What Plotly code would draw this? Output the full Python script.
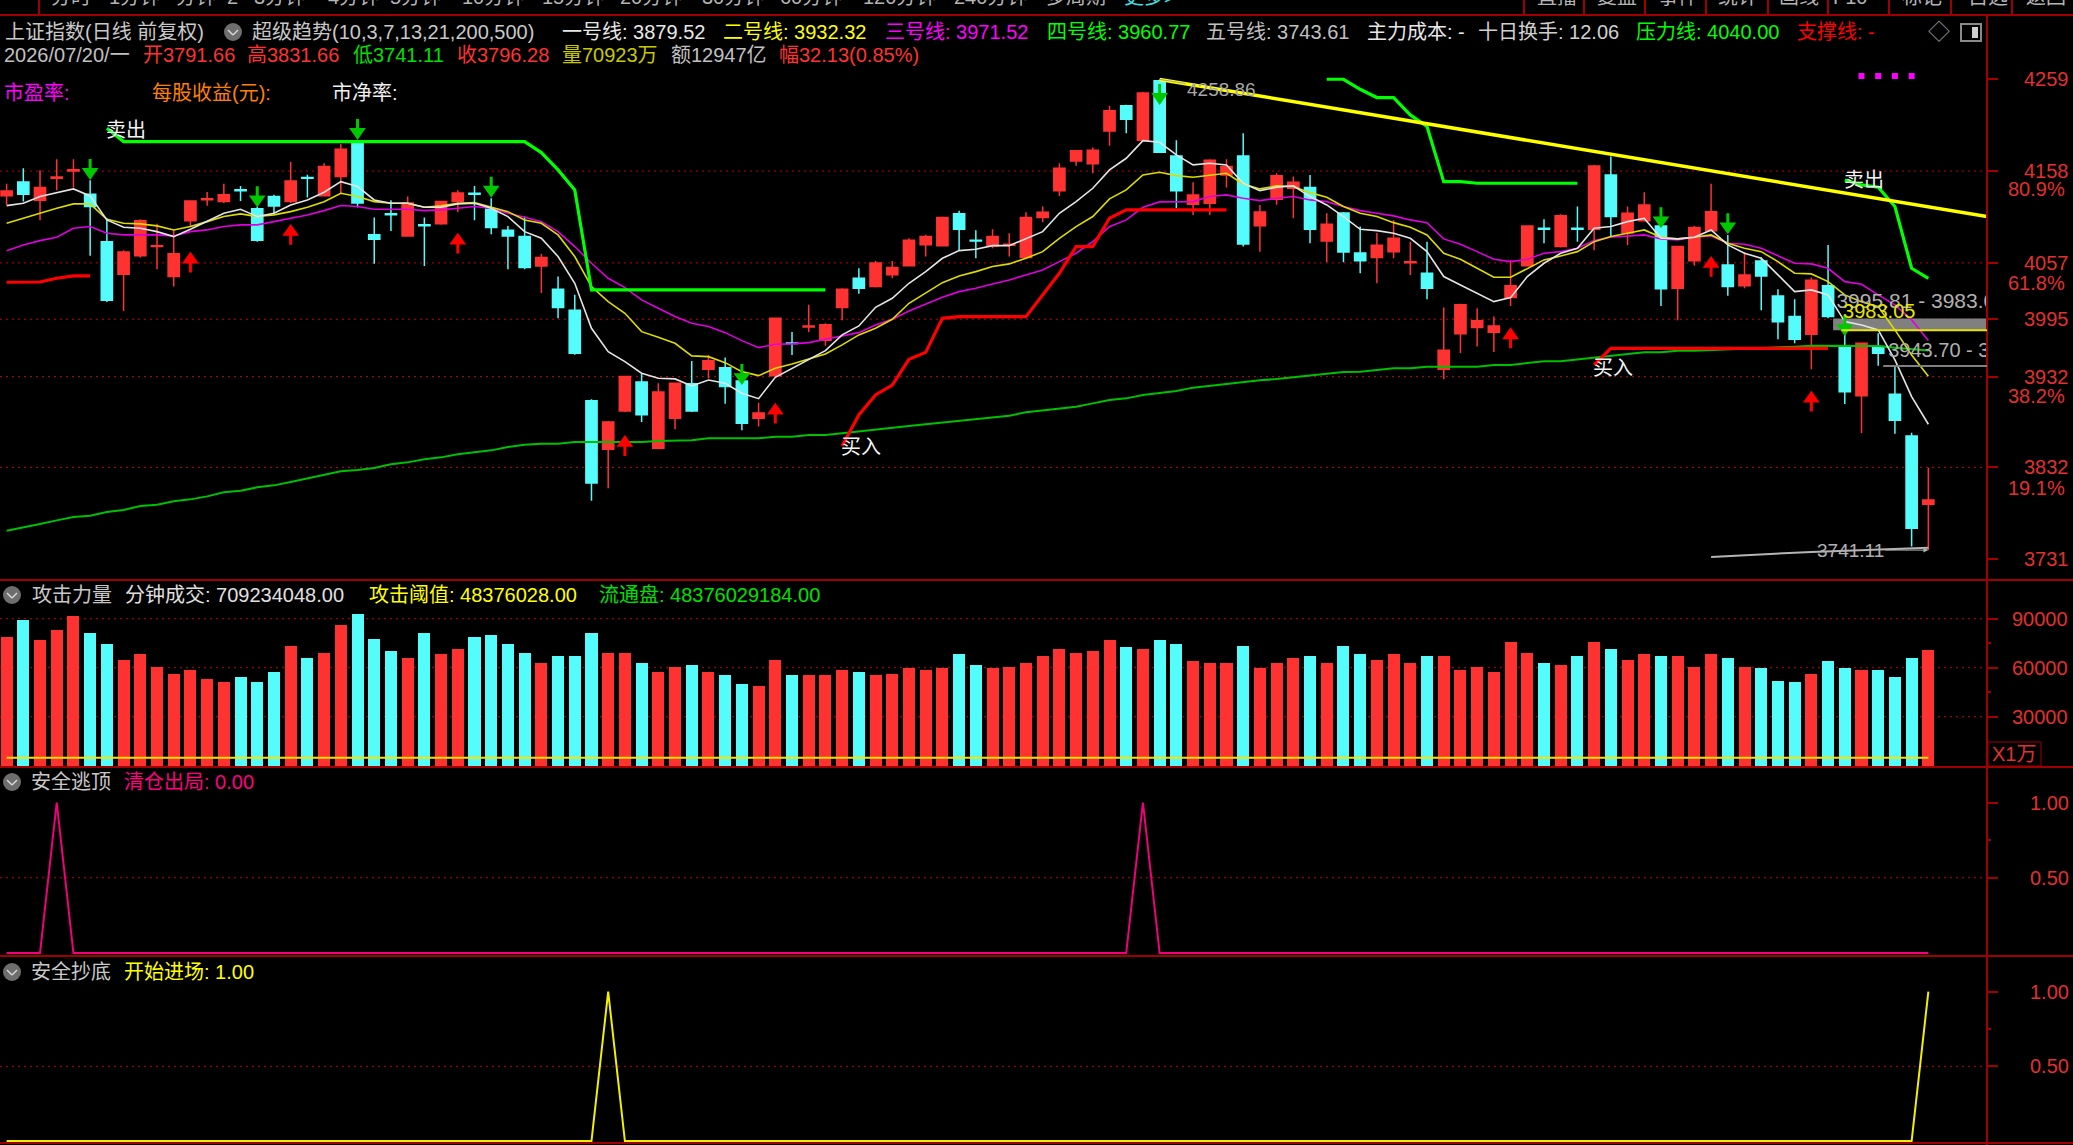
import plotly.graph_objects as go

W, H = 2073, 1145
AXIS_X = 1987

# ---------- daily bars ----------
opens = [4131,4146,4126,4150,4158,4132.5,4080.4,4044.5,4065,4075,
         4042,4103.5,4126.5,4124.5,4137.5,4116.7,4130,4124.5,4151,4131,
         4152,4188.6,4088,4111,4086.6,4099,4100,4124.5,4133.5,4116,
         4093,4086,4053.6,4028,4005,3905.5,3852,3894,3926,3853,
         3886,3924,3940,3941.8,3927,3886,3932.8,3968.9,3986.5,3972,
         4008,4040,4031,4044,4054,4077,4076,4111,4082,4075.6,
         4076.5,4063,4107,4136.5,4169,4166,4202,4230,4192,4257.5,
         4174.7,4121.5,4122.6,4153.8,4174.7,4098,4127,4139,4140,4081,
         4112,4068,4063,4069.4,4057.2,4045.6,3940,3979,3986,3980.7,
         4019,4054,4095,4075,4095,4094,4153.8,4090,4103.5,4097.6,
         4029,4059.5,4092.5,4054.7,4032,4059,4020.6,3998,3978.5,4032,
         3965.6,3911,3965,3912.5,3866.6,3791.66]
closes = [4136.2,4132.5,4140,4151.5,4159.5,4119,4016,4069,4103.5,4076,
          4067,4125,4127.5,4132,4136.5,4082,4119.6,4147,4150,4163,
          4182,4123,4083,4110,4123,4098,4124.5,4134,4132.5,4096,
          4086.6,4052,4063,4008,3957.6,3815,3882,3932,3890,3915,
          3924.6,3894,3949.5,3921,3880.6,3892,3996,3968.3,3987.5,3989,
          4028,4029,4057,4052,4082,4086,4107,4094,4081,4086,
          4077.5,4107,4112.7,4161,4180.5,4181,4224.5,4215,4244,4178.7,
          4136.5,4131.8,4170,4163,4077.9,4113,4153,4145.7,4094,4099.5,
          4069,4059.5,4076.4,4084,4058.2,4029,3961,4011,3993.5,3987.6,
          4032,4097.6,4094,4109,4094,4163.7,4108,4111.6,4120.8,4028.7,
          4075,4096,4113.4,4031,4043.8,4042.6,3992.4,3973,4038,3998,
          3915.4,3968.6,3957.6,3884,3765,3796.28]
highs = [4144,4161,4159,4171,4171,4148,4106,4071,4105,4100,
         4093,4126,4135,4144,4141.6,4119,4132,4168,4154,4166.6,
         4188,4189,4107,4126,4130,4107,4125,4137,4141.6,4128,
         4097.6,4108,4067,4042,4022,3907,3883,3933,3935.6,3924.6,
         3925,3949,3955.7,3953,3928,3903,3997,3981,4011,3990.6,
         4029,4051,4059,4059,4084,4088,4108,4114.5,4093,4094,
         4089.6,4112.7,4119,4166.6,4181,4184,4230,4231,4245,4258.86,
         4192,4145.7,4171,4171,4199.6,4120.8,4155.6,4152,4153.8,4111.6,
         4113,4097,4090,4104,4080.4,4080.4,4008,4012,4007,3998,
         4060,4098,4105,4110.5,4119,4164.8,4174,4119,4134.7,4100,
         4075.6,4097.6,4144,4087.8,4068.7,4063,4028,4017,4041,4076.7,
         3983,3969,3979.6,3943,3870.3,3831.66]
lows = [4121,4124.5,4104,4137,4140,4065,4014,4004,4063,4050,
        4031,4097,4120,4123,4125,4080.4,4111.6,4123,4129,4130,
        4134,4118,4056,4092,4086,4053.6,4099,4113,4104,4088.5,
        4050,4050,4024,3996,3956,3795.5,3809,3893,3882,3852,
        3874,3893,3930,3902,3873,3877,3932,3955.7,3981,3966,
        3994,4023,4030,4040,4053,4064,4075,4070,4062,4073,
        4064,4062,4101.7,4130.7,4164,4155.6,4186,4199.6,4191,4178,
        4117,4109.8,4109.8,4140,4075,4069.4,4121,4106,4078.6,4057.7,
        4057.7,4045.6,4034.6,4062,4043.8,4017,3929,3958,3965,3959,
        4009.6,4053,4078.6,4074,4080.4,4071,4086,4076.7,4103,4009.6,
        3994,4054,4092,4021,4029,4005,3973,3968.6,3940,3996,
        3901.8,3870,3944,3869,3745,3741.11]
index = list(range(len(opens)))

# ---------- moving average lines ----------
line_one = [4120,4122.6,4130,4134.3,4138.4,4130.7,4104.3,4096.2,4095.1,4091.4,
            4085.9,4094,4102.4,4111.6,4116,4108,4111.6,4120.8,4126.3,4134.7,
            4146.4,4141,4126.3,4122.6,4122.6,4118.2,4118.2,4121.9,4122.6,4117.1,
            4108,4091.4,4084.1,4064,4034.6,3985.1,3959.4,3948.4,3935.6,3930.1,
            3929.4,3921.7,3928.2,3924.6,3913.6,3907.7,3931.2,3941.1,3950.3,3960.5,
            3977.8,3987.7,4008.2,4018.1,4034.6,4047.4,4062.1,4070.5,4072,4076,
            4076,4084.1,4091.4,4111.6,4124.4,4139.1,4159.3,4172.1,4191.5,4189.7,
            4175.8,4164.8,4166.6,4164.8,4144.6,4136.5,4140.2,4141.7,4130,4120.8,
            4108,4094,4092.5,4089.6,4084.1,4069.4,4042,4032.8,4023.6,4014.4,
            4018.8,4042,4056.6,4067.6,4073.1,4095.1,4097,4102.4,4106.1,4084.1,
            4083.4,4085.2,4093.3,4076.8,4067.6,4062.1,4043.8,4025.4,4027.3,4021.8,
            3992.4,3988.8,3983.3,3950.3,3910,3879.52]
line_two = [4100.6,4106.1,4112.3,4117.1,4121.9,4121.9,4105,4100.6,4099.9,4097.7,
            4093.3,4097,4102.4,4108,4110.9,4108,4109.8,4113.4,4118.2,4124.4,
            4133.6,4130,4124.4,4122.6,4122.6,4118.2,4119.7,4122.6,4123.3,4118.2,
            4113.4,4104.3,4100.6,4087.8,4064,4031,4014.4,4001.6,3981.4,3975.2,
            3968.6,3954.7,3953.9,3947.3,3937.4,3933,3941.1,3945.9,3951,3956.9,
            3966.8,3977.8,3985.1,3995,4012.6,4024.3,4035.3,4042.7,4047.4,4053,
            4055.9,4062.1,4069.4,4084.1,4096.9,4108,4127.4,4137.3,4153.8,4156.7,
            4153,4151.2,4153,4155.6,4143.9,4138.4,4141.7,4141,4134.3,4129.2,
            4119,4111.6,4108,4101.3,4096.2,4087.8,4067.6,4061,4051.1,4041.2,
            4041.2,4051.1,4060.3,4064.7,4069.4,4080.4,4086,4089.6,4093.3,4085.2,
            4083.4,4085.2,4087.8,4078.6,4073.1,4069.4,4058.4,4045.6,4044.9,4036.4,
            4021.8,4014.4,4008.9,3983.3,3955.8,3932.32]
line_three = [4070.5,4076.8,4081.5,4085.2,4095.1,4097,4089.6,4087.8,4087.8,4087.8,
              4086.7,4091.4,4093.3,4097,4098.8,4098.8,4102.4,4106.1,4109.8,4114.5,
              4120.1,4119,4116,4116,4116,4114.5,4115.3,4117.1,4119,4117.1,
              4111.6,4107.2,4102.4,4091.4,4075,4056.6,4040.1,4029.8,4016.3,4007.1,
              3998,3990.6,3987,3980.3,3971.5,3963.8,3967.5,3967.9,3969.3,3973,
              3976.7,3980.3,3988.8,3995,4004.2,4011.9,4019.2,4025.4,4029.1,4033.9,
              4038.3,4043.8,4049.3,4058.4,4067.6,4080.4,4096.9,4104.3,4118.2,4124.1,
              4124.4,4124.4,4130,4131.8,4128.1,4125.5,4128.1,4130,4126.3,4124.4,
              4119,4114.5,4111.6,4108.7,4104.3,4101.3,4083.4,4077.5,4069.4,4061,
              4058.4,4061,4067.6,4069.4,4073.1,4081.5,4085.2,4086.7,4087.8,4083.4,
              4082.3,4085.2,4086.7,4078.6,4077.5,4073.1,4064.7,4056.6,4055.9,4051.1,
              4036.4,4033.5,4021.8,4010.8,3994.3,3971.52]
line_four = [3762.4,3765.7,3769.8,3773.8,3777.5,3779,3783,3785.2,3789.6,3791,
             3794.7,3796.9,3800.2,3804.6,3806.4,3810.1,3812.3,3816,3820,3823.7,
             3827.7,3829.2,3831.4,3835.4,3837.6,3840.9,3843.1,3846.4,3848.6,3850.8,
             3854.5,3857,3858.1,3858.1,3860,3860,3860,3860,3860,3861.1,
             3861.8,3861.8,3864,3864,3864,3864,3865.9,3865.9,3867.7,3867.7,
             3869.5,3871.7,3873.6,3875.4,3877.6,3879.4,3881.3,3883.1,3885.3,3887.1,
             3889,3892.6,3894.8,3896.7,3898.9,3902.5,3906.2,3908,3911.7,3913.9,
             3916.1,3919.8,3922,3923.8,3925.6,3927.8,3929.3,3931.1,3933.3,3935.5,
             3937,3937.4,3939.2,3941,3941,3942.9,3942.9,3942.9,3942.9,3944.7,
             3944.7,3946.9,3948.7,3948.7,3950.6,3952.4,3954.2,3956.4,3958.6,3958.6,
             3960.5,3960.5,3961.2,3961.9,3962.3,3963,3963.8,3964.9,3966,3966,
             3966,3966,3965.6,3963.8,3962.3,3960.77]
line_five_index = list(range(102, 116))
line_five = [3733.5,3734.6,3735.7,3736.4,3737.5,3738.2,3739,3739.7,3740.4,3741.2,
             3741.9,3742.6,3743.4,3743.61]

# ---------- pressure (green) and support (red) segments ----------
pressure_index = [6,7,31,32,33,34,35,49,None,
                  79,80,81,82,83,84,85,86,87,88,94,None,
                  110,111,112,113,114,115]
pressure = [4205.1,4190.5,4190.5,4178.4,4159.3,4137.3,4027.3,4027.3,None,
            4259,4259,4248,4238.9,4238.9,4219.8,4207,4146.4,4146.4,4144.6,4144.6,None,
            4148.3,4142.8,4140.2,4119,4051.1,4040]
support_index = [0,1,2,3,4,5,None,
                 50,51,52,53,54,55,56,57,61,62,63,64,65,66,67,73,None,
                 95,96,109]
support = [4035.7,4035.7,4036,4040.1,4042.7,4042.7,None,
           3855.6,3889.7,3911.7,3922.7,3950.9,3958.6,3996,3997.9,3997.9,4021.8,4045.6,
           4074.9,4074.9,4106.1,4115.3,4115.3,None,
           3944.7,3963,3963]

# trend line from the peak out to the right edge of the pane
trend_index = [69, 118.51]
trend = [4258.86, 4108]

# signal arrows: bar index and tip price
sell_index = [5,15,21,29,44,69,99,103,110]
sell_tip = [4148.3,4118.2,4192.3,4128.8,3922.7,4230.8,4095.1,4088.5,3976.6]
buy_index = [11,17,27,37,46,90,102,108]
buy_tip = [4069.4,4099.9,4090.3,3867.7,3903.3,3986.1,4064.7,3916.5]

dot_index = [111,112,113,114]
dot_price = [4262.6,4262.6,4262.6,4262.6]

gap_high, gap_low, gap_floor = 3995.81, 3983.05, 3943.70

# ---------- attack volume pane (unit: 10,000) ----------
volume = [78700,89500,76700,83000,91600,81200,74500,64900,68100,60600,
          56300,58500,53000,51000,54300,51000,57300,73400,65900,69200,
          86300,92800,77700,70200,65900,81000,68100,71200,78700,79800,
          74500,69200,62600,67100,67100,81000,69200,69200,62600,57300,
          60600,61600,57300,55300,49800,48800,64900,55300,55300,55300,
          58300,57300,55300,56300,59600,58500,59600,68100,61600,59600,
          60600,62600,67100,71400,69200,70200,76700,72400,71400,76700,
          74500,63900,62600,62600,73400,59600,62600,65900,67100,62600,
          73400,68100,64900,68100,62600,67100,67100,58500,60600,57300,
          75700,69200,62600,61600,67100,75700,71400,64900,68100,67100,
          67100,60600,68100,65900,60600,59600,52000,51000,56300,63900,
          59600,58500,58500,54300,65900,70923]
attack_threshold = [4837.6] * len(index)

# ---------- escape / bottom signals ----------
escape = [0.0] * len(index)
escape[3] = escape[68] = 1.0
bottom = [0.0] * len(index)
bottom[36] = bottom[115] = 1.0

RED = "#ff3232"
CYAN = "#54fcfc"
AXIS_RED = "#a00000"
TICK_RED = "#e03030"
FONT = "Liberation Sans, Noto Sans CJK SC"
CJK = "Noto Sans CJK SC, Liberation Sans"


def arrow_outline(bars, tips, direction):
    """Closed arrow polygons in bar/price units; direction +1 points up, -1 down."""
    xs, ys = [], []
    for i, tip in zip(bars, tips):
        head = tip - direction * 13
        tail = tip - direction * 23
        xs += [i, i + .5, i + .09, i + .09, i - .09, i - .09, i - .5, i, None]
        ys += [tip, head, head, tail, tail, head, head, tip, None]
    return xs, ys


fig = go.Figure()

fig.add_trace(go.Candlestick(
    x=index, open=opens, high=highs, low=lows, close=closes,
    xaxis="x", yaxis="y", whiskerwidth=0,
    increasing=dict(line=dict(color=RED, width=1.5), fillcolor=RED),
    decreasing=dict(line=dict(color=CYAN, width=1.5), fillcolor=CYAN),
))
for values, xs, color, width in [
    (line_four, index, "#00c000", 2),
    (line_three, index, "#e000e0", 1.6),
    (line_two, index, "#dcdc00", 1.6),
    (line_one, index, "#e4e4e4", 1.6),
    (line_five, line_five_index, "#b4b4b4", 2),
    (pressure, pressure_index, "#00ff00", 3.2),
    (support, support_index, "#ff0000", 3.2),
    (trend, trend_index, "#ffff00", 3.5),
]:
    fig.add_trace(go.Scatter(x=xs, y=values, mode="lines", xaxis="x", yaxis="y",
                             connectgaps=False,
                             line=dict(color=color, width=width)))

for bars, tips, direction, color in [(sell_index, sell_tip, -1, "#00c800"),
                                     (buy_index, buy_tip, 1, "#ff0000")]:
    ax, ay = arrow_outline(bars, tips, direction)
    fig.add_trace(go.Scatter(x=ax, y=ay, mode="lines", fill="toself", fillcolor=color,
                             line=dict(color=color, width=0), xaxis="x", yaxis="y"))

fig.add_trace(go.Scatter(x=dot_index, y=dot_price, mode="markers", xaxis="x", yaxis="y",
                         marker=dict(symbol="square", size=6, color="#ff00ff")))

# gap captions are clipped by the pane edge
fig.add_trace(go.Scatter(
    x=[109.5, 109.9, 112.6], y=[gap_high + 17, gap_high + 6, gap_floor + 15],
    text=["3995.81 - 3983.05", "3983.05", "3943.70 - 3"], mode="text",
    textposition="middle right", xaxis="x", yaxis="y",
    textfont=dict(family=FONT, size=[21, 20, 20], color=["#b0b0b0", "#e6e600", "#b0b0b0"]),
))

up = [c >= o for o, c in zip(opens, closes)]
fig.add_trace(go.Bar(x=index, y=volume, width=.72, xaxis="x2", yaxis="y2",
                     marker=dict(color=[RED if u else CYAN for u in up], line=dict(width=0))))
fig.add_trace(go.Scatter(x=index, y=attack_threshold, mode="lines", xaxis="x2", yaxis="y2",
                         line=dict(color="#ffe000", width=2)))
fig.add_trace(go.Scatter(x=index, y=escape, mode="lines", xaxis="x3", yaxis="y3",
                         line=dict(color="#f0007c", width=2)))
fig.add_trace(go.Scatter(x=index, y=bottom, mode="lines", xaxis="x4", yaxis="y4",
                         line=dict(color="#f0f000", width=2)))

annotations = []
shapes = []


def label(px, py, text, color, size=20, family=FONT, anchor="left"):
    annotations.append(dict(xref="paper", yref="paper", x=px / W, y=1 - py / H, text=text,
                            showarrow=False, xanchor=anchor, yanchor="middle",
                            font=dict(family=family, size=size, color=color)))


def rule(x0, y0, x1, y1, color=AXIS_RED, width=2):
    shapes.append(dict(type="line", xref="paper", yref="paper", x0=x0 / W, x1=x1 / W,
                       y0=1 - y0 / H, y1=1 - y1 / H, line=dict(color=color, width=width)))


def chevron_icon(px, py):
    shapes.append(dict(type="circle", xref="paper", yref="paper", x0=(px - 9) / W, x1=(px + 9) / W,
                       y0=1 - (py + 9) / H, y1=1 - (py - 9) / H,
                       fillcolor="#6e6e6e", line=dict(width=0)))
    rule(px - 5, py - 2, px, py + 3, "#d8d8d8", 1.5)
    rule(px, py + 3, px + 5, py - 2, "#d8d8d8", 1.5)


# pane separators and the price axis rail
for py in (15, 580, 767, 956, 1143):
    rule(0, py, W, py)
rule(AXIS_X, 15, AXIS_X, H)

# toolbar, cut off by the top of the window
rule(39, 0, 39, 15)
for px, text in [(49, "分时"), (107, "1分钟"), (174, "分钟"), (225, "2"), (252, "3分钟"),
                 (326, "4分钟"), (388, "5分钟"), (460, "10分钟"), (540, "15分钟"), (618, "20分钟"),
                 (700, "30分钟"), (778, "60分钟"), (861, "120分钟"), (952, "240分钟"), (1044, "多周期")]:
    label(px, -3, text, "#b4b4b4")
label(1122, -3, "更多>", "#40e0e0")
for px in (1524, 1584, 1645, 1706, 1768, 1828, 1889, 1951, 2012):
    rule(px, 0, px, 15)
for px, text in [(1535, "直播"), (1595, "复盘"), (1656, "事件"), (1716, "统计"), (1777, "画线"),
                 (1831, "F10"), (1900, "标记"), (1966, "自选"), (2024, "返回")]:
    label(px, -3, text, "#b4b4b4")

# main pane captions
chevron_icon(233, 32)
for px, text, color in [
    (3, "上证指数(日线 前复权)", "#c8c8c8"),
    (250, "超级趋势(10,3,7,13,21,200,500)", "#c8c8c8"),
    (560, "一号线: 3879.52", "#e8e8e8"),
    (721, "二号线: 3932.32", "#ffff00"),
    (883, "三号线: 3971.52", "#ff00ff"),
    (1045, "四号线: 3960.77", "#00ff00"),
    (1204, "五号线: 3743.61", "#c0c0c0"),
    (1365, "主力成本: -", "#e8e8e8"),
    (1476, "十日换手: 12.06", "#d0d0d0"),
    (1634, "压力线: 4040.00", "#00ff00"),
    (1795, "支撑线: -", "#ff0000"),
]:
    label(px, 32, text, color)
for px, text, color in [
    (2, "2026/07/20/一", "#c0c0c0"),
    (141, "开3791.66", RED),
    (245, "高3831.66", RED),
    (351, "低3741.11", "#00e000"),
    (455, "收3796.28", RED),
    (560, "量70923万", "#c8c800"),
    (669, "额12947亿", "#c0c0c0"),
    (777, "幅32.13(0.85%)", RED),
]:
    label(px, 55, text, color)
label(2, 93, "市盈率:", "#ff00ff")
label(150, 93, "每股收益(元):", "#ff8000")
label(330, 93, "市净率:", "#f0f0f0")
label(1939, 32, "◇", "#8a8a8a", 22, anchor="center")
shapes.append(dict(type="rect", xref="paper", yref="paper", x0=1961 / W, x1=1981 / W,
                   y0=1 - 41 / H, y1=1 - 24 / H, line=dict(color="#8a8a8a", width=2)))
shapes.append(dict(type="rect", xref="paper", yref="paper", x0=1972 / W, x1=1978 / W,
                   y0=1 - 38 / H, y1=1 - 27 / H, fillcolor="#d0d0d0", line=dict(width=0)))

for px, py, text in [(126, 129, "卖出"), (1864, 179, "卖出"), (861, 445, "买入"), (1613, 366, "买入")]:
    label(px, py, text, "#f4f4f4", 20, CJK, "center")

for px, py, text in [(2067, 189, "80.9%"), (2067, 283, "61.8%"), (2067, 396, "38.2%"), (2067, 488, "19.1%")]:
    label(px, py, text, TICK_RED, 20, FONT, "right")

# high / low call-outs
annotations.append(dict(xref="x", yref="y", x=69, y=4258.86, text="4258.86", ax=62, ay=10,
                        showarrow=True, arrowhead=0, arrowwidth=1, arrowcolor="#a0a0a0",
                        font=dict(family=FONT, size=19, color="#a8a8a8")))
annotations.append(dict(xref="x", yref="y", x=115, y=3741.11, text="3741.11", ax=-78, ay=0,
                        showarrow=True, arrowhead=2, arrowwidth=1, arrowcolor="#b0b0b0",
                        font=dict(family=FONT, size=19, color="#b0b0b0")))

# gap band and its floor
shapes.append(dict(type="rect", xref="x", yref="y", x0=109.3, x1=118.51, y0=gap_low, y1=gap_high,
                   fillcolor="#808080", line=dict(width=0), layer="below"))
shapes.append(dict(type="line", xref="x", yref="y", x0=109.8, x1=118.51, y0=gap_low, y1=gap_low,
                   line=dict(color="#e6e600", width=2)))
shapes.append(dict(type="line", xref="x", yref="y", x0=112.3, x1=118.51, y0=gap_floor, y1=gap_floor,
                   line=dict(color="#808080", width=2)))

# lower pane captions
chevron_icon(12, 595)
label(30, 595, "攻击力量", "#c8c8c8")
label(123, 595, "分钟成交: 709234048.00", "#e0e0e0")
label(367, 595, "攻击阈值: 48376028.00", "#ffff00")
label(597, 595, "流通盘: 48376029184.00", "#00e000")
chevron_icon(12, 782)
label(29, 782, "安全逃顶", "#c8c8c8")
label(122, 782, "清仓出局: 0.00", "#ff0080")
chevron_icon(12, 972)
label(29, 972, "安全抄底", "#c8c8c8")
label(122, 972, "开始进场: 1.00", "#ffff00")

shapes.append(dict(type="rect", xref="paper", yref="paper", x0=1988 / W, x1=2041 / W,
                   y0=1 - 766 / H, y1=1 - 742 / H, line=dict(color=AXIS_RED, width=1)))
label(2014, 754, "X1万", TICK_RED, 20, FONT, "center")


def dotted_grid(levels, yref):
    for level in levels:
        shapes.append(dict(type="line", xref="paper", x0=0, x1=AXIS_X / W, yref=yref,
                           y0=level, y1=level, layer="below",
                           line=dict(color="#c00000", width=1, dash="2px,4px")))


dotted_grid([4158, 4057, 3995, 3932, 3832], "y")
dotted_grid([90000, 60000, 30000], "y2")
dotted_grid([0.5], "y3")
dotted_grid([0.5], "y4")

layout = dict(
    width=W, height=H, autosize=False, showlegend=False, hovermode=False,
    margin=dict(l=0, r=0, t=0, b=0, pad=0),
    paper_bgcolor="#000000", plot_bgcolor="#000000",
    bargap=0, annotations=annotations, shapes=shapes, boxgap=.33, boxgroupgap=0,
)
bounds = {"": (15, 580), "2": (580, 767), "3": (767, 956), "4": (956, 1143)}
y_ranges = {"": (3708.2, 4329.7), "2": (-796, 113690), "3": (-.02, 1.236), "4": (-.0134, 1.239)}
ticks = {"": [4259, 4158, 4057, 3995, 3932, 3832, 3731],
         "2": [90000, 60000, 30000], "3": [1, .5], "4": [1, .5]}
standoff = {"": 22, "2": 10, "3": 28, "4": 28}
for key, (top, bottom_px) in bounds.items():
    layout["xaxis" + key] = dict(domain=[0, AXIS_X / W], range=[-.395, 118.51], type="linear",
                                 showgrid=False, zeroline=False, showticklabels=False, ticks="",
                                 anchor="y" + key, rangeslider=dict(visible=False))
    tickformat = ".2f" if key in ("3", "4") else "d"
    axis = dict(domain=[1 - bottom_px / H, 1 - top / H], range=list(y_ranges[key]),
                anchor="x" + key, side="right", showgrid=False, zeroline=False, showline=False,
                tickmode="array", tickvals=ticks[key], tickformat=tickformat,
                ticks="outside", ticklen=10, tickwidth=2, tickcolor=AXIS_RED,
                ticklabelstandoff=standoff[key],
                tickfont=dict(family=FONT, size=20, color=TICK_RED))
    if key == "2":
        axis["minor"] = dict(tickvals=[75000, 45000], ticks="outside", ticklen=3, tickcolor=AXIS_RED)
    if key in ("3", "4"):
        axis["minor"] = dict(tickvals=[.75], ticks="outside", ticklen=3, tickcolor=AXIS_RED)
    layout["yaxis" + key] = axis

fig.update_layout(**layout)
fig.write_html("out.html")
